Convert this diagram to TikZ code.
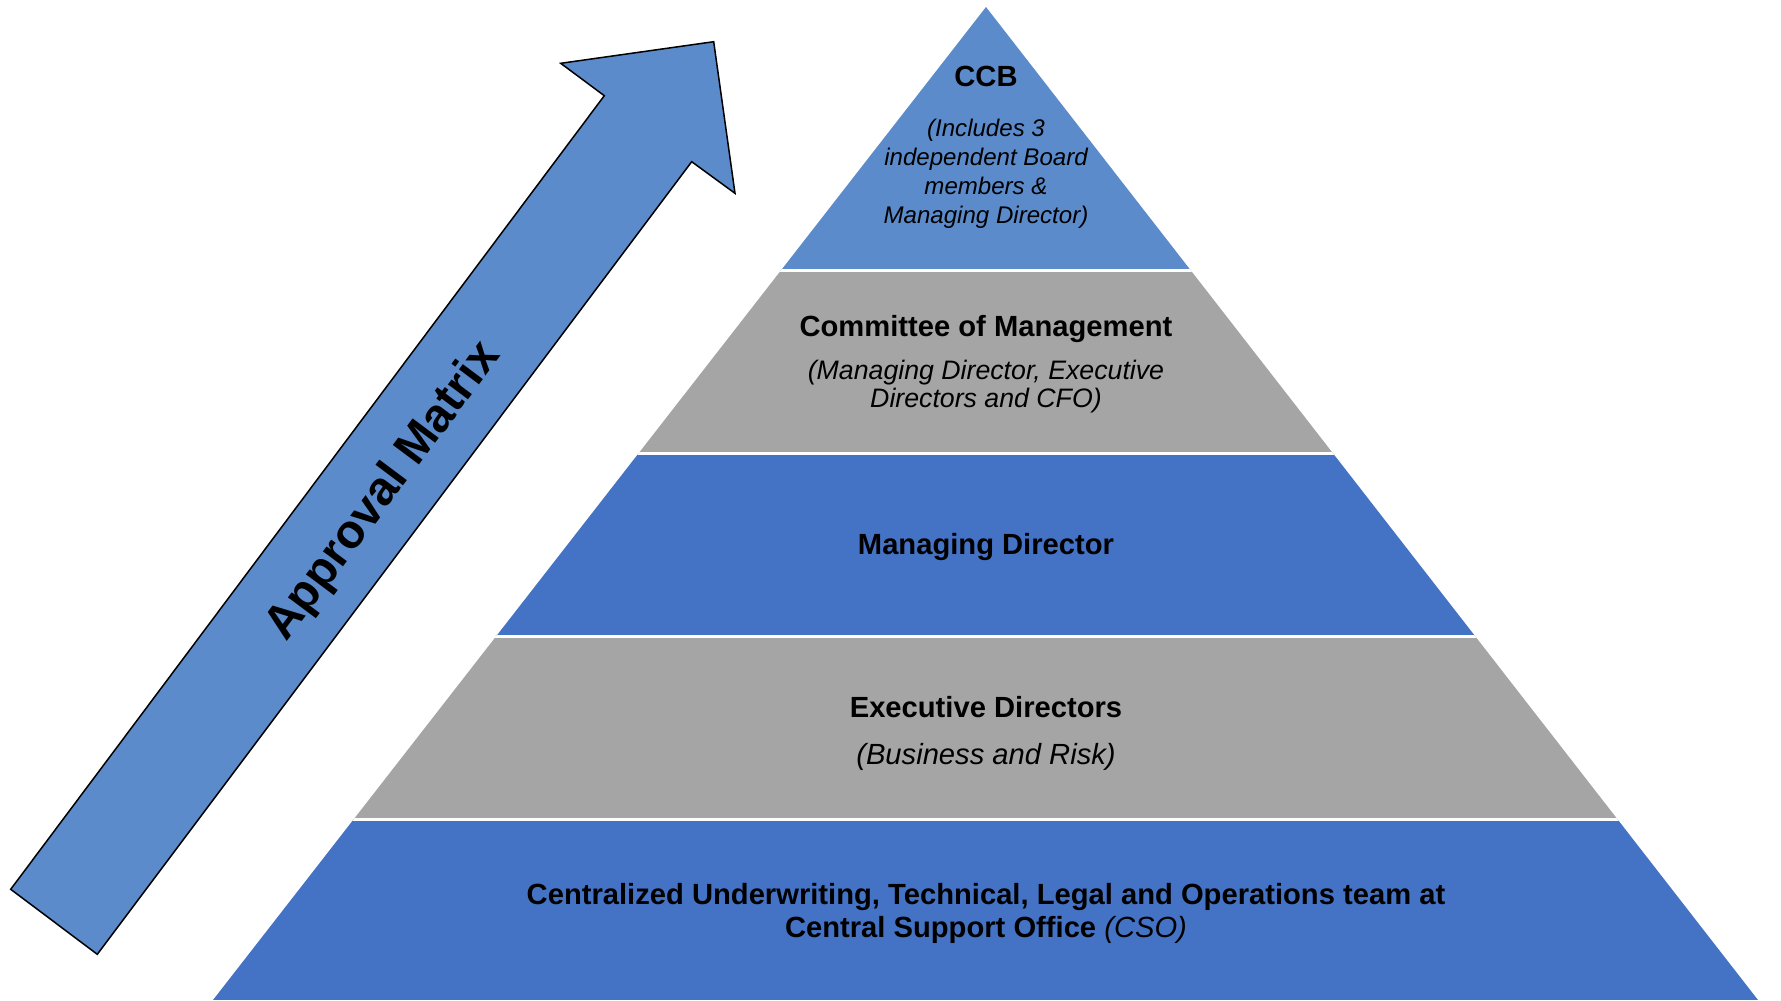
\documentclass[tikz,border=0pt]{standalone}
\usepackage{fontspec}
\setmainfont{Liberation Sans}
\usetikzlibrary{calc}

\definecolor{lightblue}{HTML}{5B8BCB}
\definecolor{darkblue}{HTML}{4472C4}
\definecolor{midgray}{HTML}{A5A5A5}

\begin{document}
\begin{tikzpicture}[x=0.1mm, y=-0.1mm,
    title/.style={inner sep=0pt, align=center, font=\fontsize{8.3}{9.4}\selectfont\bfseries},
    note/.style={inner sep=0pt, align=center, font=\fontsize{8.3}{9.4}\selectfont\itshape},
    divider/.style={white, line width=0.3mm}]
    \useasboundingbox (0,0) rectangle (1781,1000);

    % pyramid
    \coordinate (apex) at (986,7);
    \coordinate (bl) at (213,1000);
    \coordinate (br) at (1758,1000);
    \begin{scope}
      \clip (apex) -- (br) -- (bl) -- cycle;
      \fill[lightblue] (0,0) rectangle (1781,270.5);
      \fill[midgray] (0,270.5) rectangle (1781,453);
      \fill[darkblue] (0,453) rectangle (1781,636);
      \fill[midgray] (0,636) rectangle (1781,819);
      \fill[darkblue] (0,819) rectangle (1781,1000);
      \foreach \y in {270.5,453,636,819}
        \draw[divider] (0,\y) -- (1781,\y);
    \end{scope}

    % arrow
    \draw[fill=lightblue, line width=0.15mm] (10.7,889.3) -- (604.3,95.7) -- (560.7,63.3)
      -- (713.7,41.7) -- (735,193.3) -- (691.7,161.7) -- (97.3,954.3) -- cycle;
    \node[inner sep=0pt, rotate=53.2, font=\fontsize{13.5}{15}\selectfont\bfseries]
      (matrix) at (384,492) {Approval Matrix};

    % labels
    \node[title] (ccb) at (986,76) {CCB};
    \node[note, font=\fontsize{6.85}{8.25}\selectfont\itshape] (ccbnote) at (986,173.5)
      {(Includes 3\\independent Board\\members \&\\Managing Director)};
    \node[title] (com) at (986,329.5) {Committee of Management};
    \node[note, font=\fontsize{7.6}{8}\selectfont\itshape] (comnote) at (986,386.5)
      {(Managing Director, Executive\\Directors and CFO)};
    \node[title] (md) at (986,547) {Managing Director};
    \node[title] (ed) at (986,707) {Executive Directors};
    \node[note] (ednote) at (986,756.5) {(Business and Risk)};
    \node[title, font=\fontsize{8.3}{9.4}\selectfont\bfseries] (cso) at (986,913)
      {Centralized Underwriting, Technical, Legal and Operations team at\\
       Central Support Office \textmd{\textit{(CSO)}}};
\end{tikzpicture}
\end{document}
